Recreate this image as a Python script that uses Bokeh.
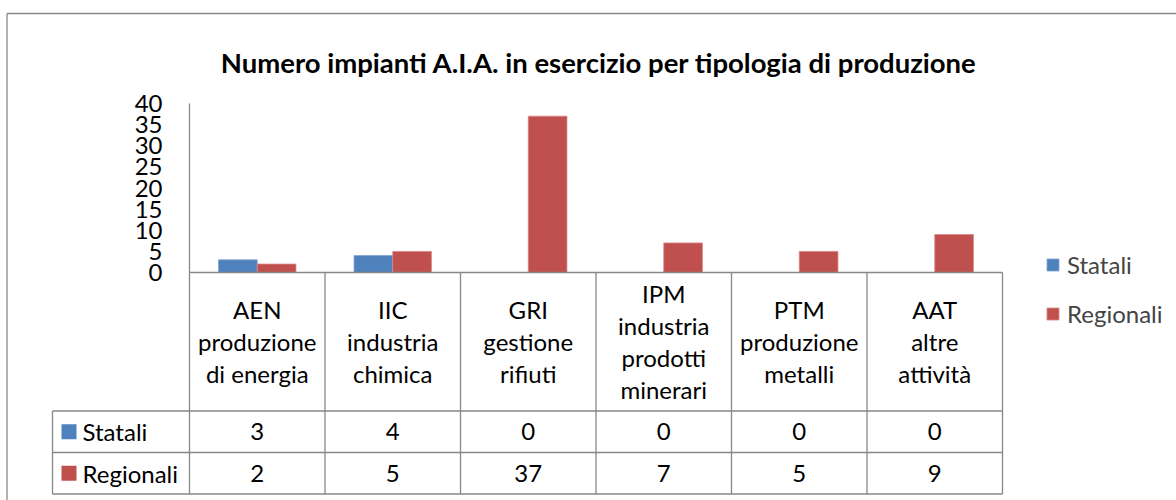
from bokeh.plotting import figure
from bokeh.models import ColumnDataSource, FixedTicker, LinearAxis, Legend, LegendItem, Range1d
from bokeh.core.properties import value
from bokeh.embed import file_html
from bokeh.resources import INLINE

# ---------------- data ----------------
categories = [
    "AEN\nproduzione\ndi energia",
    "IIC\nindustria\nchimica",
    "GRI\ngestione\nrifiuti",
    "IPM\nindustria\nprodotti\nminerari",
    "PTM\nproduzione\nmetalli",
    "AAT\naltre\nattività",
]
series_names = ["Statali", "Regionali"]
statali = [3, 4, 0, 0, 0, 0]
regionali = [2, 5, 37, 7, 5, 9]
y_ticks = [0, 5, 10, 15, 20, 25, 30, 35, 40]
title_text = "Numero impianti A.I.A. in esercizio per tipologia di produzione"

# ---------------- layout constants (page pixels) ----------------
W, H = 1176, 500
OFF = 0
X0_PAGE, COL_PX = 189.0, 135.5
Y0_PAGE, UNIT_PX = 272.0, 4.225

def dx(page_x):
    return (page_x - X0_PAGE) / COL_PX

def dy(page_y):
    return (Y0_PAGE - page_y) / UNIT_PX

FONT = value("Lato")
FS = "24px"
GRID = "#878787"
BLUE = "#4F81BD"
RED = "#C0504D"

p = figure(width=W, height=H, output_backend="svg", toolbar_location=None,
           x_range=Range1d(dx(OFF), dx(OFF + W)),
           y_range=Range1d(dy(OFF + H), dy(OFF)),
           x_axis_location=None, y_axis_location=None,
           min_border=0, min_border_left=0, min_border_right=0,
           min_border_top=0, min_border_bottom=0)
p.outline_line_color = None
p.xgrid.visible = False
p.ygrid.visible = False
p.background_fill_color = "white"
p.border_fill_color = "white"

# y axis at x = 0
yaxis = LinearAxis(fixed_location=0, ticker=FixedTicker(ticks=y_ticks), bounds=(0, max(y_ticks)))
yaxis.axis_line_color = GRID
yaxis.axis_line_width = 1.3
yaxis.major_tick_line_color = None
yaxis.minor_tick_line_color = None
yaxis.major_label_text_font = "Lato"
yaxis.major_label_text_font_size = FS
yaxis.major_label_text_color = "black"
yaxis.major_label_standoff = 21
p.add_layout(yaxis, "left")

# bars
n = len(categories)
bar_w = 1 / 3.5
src = ColumnDataSource(dict(
    xs=[i + 0.5 - bar_w / 2 for i in range(n)],
    xr=[i + 0.5 + bar_w / 2 for i in range(n)],
    statali=statali, regionali=regionali,
))
r_stat = p.vbar(x="xs", top="statali", width=bar_w, source=src,
                fill_color=BLUE, line_color="#7FA3D1", line_width=0.8)
r_reg = p.vbar(x="xr", top="regionali", width=bar_w, source=src,
               fill_color=RED, line_color="#D98886", line_width=0.8)

# data table grid
y_hdr = dy(410.5)
y_r1 = dy(452.0)
y_bot = dy(493.5)
x_leg = dx(52.0)
x0s, y0s, x1s, y1s = [], [], [], []
for i in range(n + 1):
    x0s.append(i); y0s.append(0); x1s.append(i); y1s.append(y_bot)
x0s.append(x_leg); y0s.append(y_hdr); x1s.append(x_leg); y1s.append(y_bot)
for yy in (y_hdr, y_r1, y_bot):
    x0s.append(x_leg); y0s.append(yy); x1s.append(n); y1s.append(yy)
x0s.append(0); y0s.append(0); x1s.append(n); y1s.append(0)
p.segment(x0=x0s, y0=y0s, x1=x1s, y1=y1s, line_color=GRID, line_width=1.3)

# outer chart border (left and top)
p.segment(x0=[dx(6.5), dx(6.5)], y0=[dy(13.0), dy(13.0)],
          x1=[dx(6.5), dx(OFF + W)], y1=[dy(OFF + H), dy(13.0)],
          line_color=GRID, line_width=1.3)

# header cells
p.text(x=[i + 0.5 for i in range(n)], y=[dy(341.25)] * n, text=categories,
       text_align="center", text_baseline="middle", text_font=FONT,
       text_font_size=FS, text_line_height=1.1, text_color="black")

# value rows
row_y = [dy(431.25), dy(472.75)]
for vals, yy in zip([statali, regionali], row_y):
    p.text(x=[i + 0.5 for i in range(n)], y=[yy] * n, text=[str(v) for v in vals],
           text_align="center", text_baseline="middle", text_font=FONT,
           text_font_size=FS, text_color="black")

# table legend keys
p.scatter(x=[dx(68.5)] * 2, y=row_y, marker="square", size=15,
          fill_color=[BLUE, RED], line_color=None)
p.text(x=[dx(82.0)] * 2, y=row_y, text=series_names, text_align="left",
       text_baseline="middle", text_font=FONT, text_font_size=FS, text_color="black")

# title
p.text(x=[dx(598.5)], y=[dy(62.0)], text=[title_text], text_align="center",
       text_baseline="alphabetic", text_font=FONT, text_font_size="27.5px",
       text_font_style="bold", text_color="black")

# legend
legend = Legend(items=[LegendItem(label=series_names[0], renderers=[r_stat]),
                       LegendItem(label=series_names[1], renderers=[r_reg])],
                location=(1045, 171.5), orientation="vertical")
legend.background_fill_alpha = 0
legend.border_line_color = None
legend.padding = 0
legend.margin = 0
legend.glyph_width = 15
legend.glyph_height = 15
legend.label_text_font = "Lato"
legend.label_text_font_size = FS
legend.label_standoff = 7
legend.label_height = 30
legend.spacing = 19
p.add_layout(legend)

open("out.html", "w").write(file_html(p, INLINE))
